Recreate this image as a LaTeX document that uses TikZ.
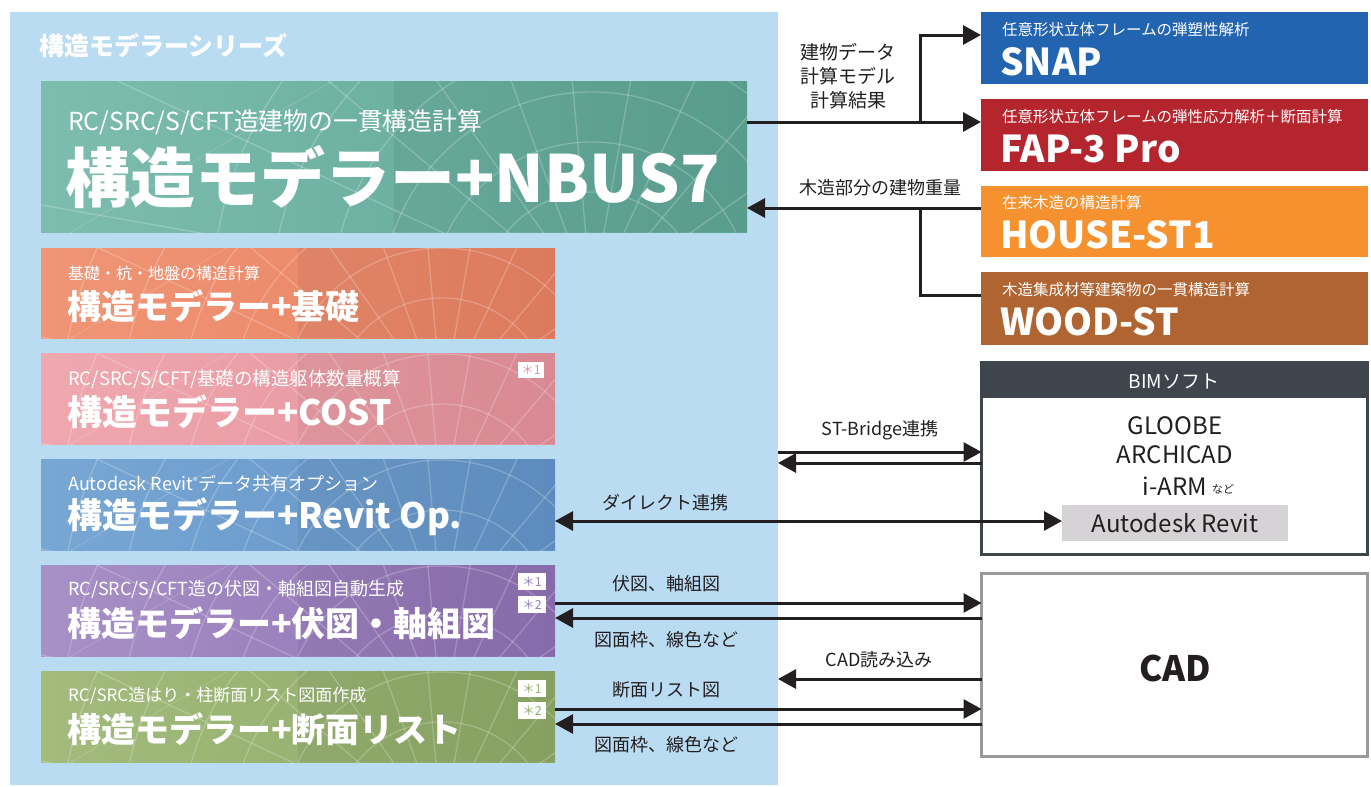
\documentclass[tikz,border=0pt]{standalone}
\usepackage{fontspec}
\setmainfont{Noto Sans CJK JP}
\usetikzlibrary{arrows.meta,calc}
\definecolor{panelc}{HTML}{BADCF3}
\definecolor{nbusL}{HTML}{7DBDAF}
\definecolor{nbusR}{HTML}{5DA595}
\definecolor{kisoL}{HTML}{EF9676}
\definecolor{kisoR}{HTML}{E98163}
\definecolor{costL}{HTML}{EFA8AF}
\definecolor{costR}{HTML}{E5919B}
\definecolor{revL}{HTML}{78A7D4}
\definecolor{revR}{HTML}{6393C8}
\definecolor{fuzL}{HTML}{A891C6}
\definecolor{fuzR}{HTML}{8E70B4}
\definecolor{danL}{HTML}{A3BC7E}
\definecolor{danR}{HTML}{8DA966}
\definecolor{snapc}{HTML}{2364B0}
\definecolor{fapc}{HTML}{B5252E}
\definecolor{housec}{HTML}{F5922F}
\definecolor{woodc}{HTML}{B06431}
\definecolor{bimhead}{HTML}{3E454C}
\definecolor{revgray}{HTML}{D5D3D6}
\definecolor{cadborder}{HTML}{9A9A9A}
\definecolor{costtxt}{HTML}{E595A0}
\definecolor{fuztxt}{HTML}{9A80BD}
\definecolor{dantxt}{HTML}{94B06C}
\definecolor{linec}{HTML}{231F20}
\newcommand\fsz[1]{\fontsize{#1}{#1}\selectfont}
\newcommand\boxtexture[1]{%
  \begin{scope}
    \clip (#1.north west) rectangle (#1.south east);
    \fill[black,opacity=.05] ($(#1.north west)!.5!(#1.north east)$) rectangle (#1.south east);
    \coordinate (tc) at ($(#1.south west)!.78!(#1.south east)+(0,70)$);
    \foreach \r in {60,110,160,210,260,320,380} \draw[white,opacity=.22,line width=1.3] (tc) circle[radius=\r];
    \foreach \a in {190,205,...,350} \draw[white,opacity=.22,line width=1.3] (tc) -- ++(\a:700);
    \foreach \a in {-30,25,70} \draw[white,opacity=.12,line width=1.2] ($(#1.south west)+(30,0)$) -- ++(\a:600);
  \end{scope}}
\tikzset{
  prodbox/.style={inner sep=0, outer sep=0, anchor=north west},
  wtext/.style={inner sep=0, anchor=west, text=white},
  lbl/.style={inner sep=0, text=linec},
  ln/.style={draw=linec, line width=3},
  tip/.tip={Triangle[length=18, width=19]},
  badge/.style={fill=white, inner sep=0, minimum width=28, minimum height=17, anchor=north west, font=\fsz{12.5}}
}
\begin{document}
\begin{tikzpicture}[x=1pt,y=-1pt]
\useasboundingbox (0,0) rectangle (1371,787);
\fill[white] (0,0) rectangle (1371,787);

% series panel
\node[prodbox, fill=panelc, minimum width=768, minimum height=773] (panel) at (10,12) {};
\node[wtext, font=\bfseries\fsz{25}] (title) at (39,46) {構造モデラーシリーズ};

% left product boxes
\node[prodbox, left color=nbusL, right color=nbusR, minimum width=706, minimum height=151] (nbus) at (41,81) {};
\boxtexture{nbus}
\node[wtext, font=\fsz{24.8}] (nbus-sub) at (68,122) {RC/SRC/S/CFT造建物の一貫構造計算};
\node[wtext, font=\bfseries\fsz{65}] (nbus-main) at (65,177) {構造モデラー+NBUS7};

\node[prodbox, left color=kisoL, right color=kisoR, minimum width=514, minimum height=90] (kiso) at (41,248) {};
\boxtexture{kiso}
\node[wtext, font=\fsz{16}] (kiso-sub) at (68,273) {基礎・杭・地盤の構造計算};
\node[wtext, font=\bfseries\fsz{34}] (kiso-main) at (67,306) {構造モデラー+基礎};

\node[prodbox, left color=costL, right color=costR, minimum width=514, minimum height=91] (cost) at (41,353) {};
\boxtexture{cost}
\node[wtext, font=\fsz{18.5}] (cost-sub) at (68,379) {RC/SRC/S/CFT/基礎の構造躯体数量概算};
\node[wtext, font=\bfseries\fsz{35}] (cost-main) at (67,412) {構造モデラー+COST};
\node[badge, text=costtxt, minimum width=26, minimum height=16] (cost-b1) at (518,362) {＊1};

\node[prodbox, left color=revL, right color=revR, minimum width=514, minimum height=91] (revit) at (41,459) {};
\boxtexture{revit}
\node[wtext, font=\fsz{18}] (revit-sub) at (68,484) {Autodesk Revit\textsuperscript{\fsz{9}®}データ共有オプション};
\node[wtext, font=\bfseries\fsz{35}] (revit-main) at (67,517) {構造モデラー+Revit Op.};

\node[prodbox, left color=fuzL, right color=fuzR, minimum width=514, minimum height=91] (fuzu) at (41,565) {};
\boxtexture{fuzu}
\node[wtext, font=\fsz{18}] (fuzu-sub) at (68,590) {RC/SRC/S/CFT造の伏図・軸組図自動生成};
\node[wtext, font=\bfseries\fsz{34}] (fuzu-main) at (67,623) {構造モデラー+伏図・軸組図};
\node[badge, text=fuztxt] (fuzu-b1) at (518,573) {＊1};
\node[badge, text=fuztxt] (fuzu-b2) at (518,596) {＊2};

\node[prodbox, left color=danL, right color=danR, minimum width=514, minimum height=91] (danmen) at (41,671) {};
\boxtexture{danmen}
\node[wtext, font=\fsz{17}] (danmen-sub) at (68,696) {RC/SRC造はり・柱断面リスト図面作成};
\node[wtext, font=\bfseries\fsz{34}] (danmen-main) at (67,729) {構造モデラー+断面リスト};
\node[badge, text=dantxt] (danmen-b1) at (518,680) {＊1};
\node[badge, text=dantxt] (danmen-b2) at (518,702) {＊2};

% right product boxes
\node[prodbox, fill=snapc, minimum width=387, minimum height=72] (snap) at (981,12) {};
\node[wtext, font=\fsz{15.5}] (snap-sub) at (1002,30) {任意形状立体フレームの弾塑性解析};
\node[wtext, font=\bfseries\fsz{37}] (snap-main) at (1000,62) {SNAP};

\node[prodbox, fill=fapc, minimum width=387, minimum height=72] (fap) at (981,99) {};
\node[wtext, font=\fsz{15.5}] (fap-sub) at (1002,117) {任意形状立体フレームの弾性応力解析＋断面計算};
\node[wtext, font=\bfseries\fsz{37}] (fap-main) at (1000,149) {FAP-3 Pro};

\node[prodbox, fill=housec, minimum width=387, minimum height=71] (house) at (981,186) {};
\node[wtext, font=\fsz{15.5}] (house-sub) at (1002,203) {在来木造の構造計算};
\node[wtext, font=\bfseries\fsz{37}] (house-main) at (1000,235) {HOUSE-ST1};

\node[prodbox, fill=woodc, minimum width=387, minimum height=73] (wood) at (981,272) {};
\node[wtext, font=\fsz{15.5}] (wood-sub) at (1002,290) {木造集成材等建築物の一貫構造計算};
\node[wtext, font=\bfseries\fsz{37}] (wood-main) at (1000,322) {WOOD-ST};

% BIM box
\node[prodbox, fill=white, draw=bimhead, line width=2.5, minimum width=386, minimum height=192] (bim) at (981.5,362.5) {};
\node[prodbox, fill=bimhead, minimum width=387, minimum height=36] (bimhead) at (981,362) {};
\node[inner sep=0, text=white, font=\fsz{19}] (bim-title) at (1174,381) {BIMソフト};
\node[lbl, font=\fsz{24}] (gloobe) at (1175,426) {GLOOBE};
\node[lbl, font=\fsz{24}] (archicad) at (1175,455) {ARCHICAD};
\node[lbl, font=\fsz{24}, anchor=east] (iarm) at (1207,486) {i-ARM};
\node[lbl, font=\fsz{11}, anchor=west] (nado) at (1212,489) {など};
\node[inner sep=0, outer sep=0, fill=revgray, minimum width=226, minimum height=36, text=linec, font=\fsz{24}] (autorevit) at (1175,523) {Autodesk Revit};

% CAD box
\node[prodbox, fill=white, draw=cadborder, line width=2.5, minimum width=386, minimum height=183] (cad) at (981.5,573.5) {};
\node[lbl, font=\bfseries\fsz{35}] (cad-title) at (1175,668) {CAD};

% connectors
\coordinate (j1) at (920,122);
\coordinate (j2) at (920,208);
\draw[ln,-{tip}] (nbus.east |- j1) -- (fap.west |- j1);
\draw[ln,-{tip}] (j1) |- (snap.west |- 0,35);
\draw[ln,-{tip}] (house.west |- j2) -- (nbus.east |- j2);
\draw[ln] (wood.west |- 0,295) -| (j2);
\node[lbl, font=\fsz{19}, align=center] (lbl-data) at (848,76) {建物データ\\[5pt]計算モデル\\[5pt]計算結果};
\node[lbl, font=\fsz{18}] (lbl-wood) at (880,188) {木造部分の建物重量};

\draw[ln,-{tip}] (panel.east |- 0,452) -- (bim.west |- 0,452);
\draw[ln,-{tip}] (bim.west |- 0,463) -- (panel.east |- 0,463);
\node[lbl, font=\fsz{18}] (lbl-stb) at (880,430) {ST-Bridge連携};

\draw[ln,{tip}-{tip}] (revit.east |- 0,521) -- (autorevit.west |- 0,521);
\node[lbl, font=\fsz{18}] (lbl-direct) at (665,503) {ダイレクト連携};

\draw[ln,-{tip}] (fuzu.east |- 0,603) -- (cad.west |- 0,603);
\draw[ln,-{tip}] (cad.west |- 0,618) -- (fuzu.east |- 0,618);
\node[lbl, font=\fsz{18}] (lbl-fuzu) at (666,584) {伏図、軸組図};
\node[lbl, font=\fsz{18}] (lbl-waku1) at (666,640) {図面枠、線色など};

\draw[ln,-{tip}] (cad.west |- 0,679) -- (panel.east |- 0,679);
\node[lbl, font=\fsz{18}] (lbl-cadin) at (879,660) {CAD読み込み};

\draw[ln,-{tip}] (danmen.east |- 0,709) -- (cad.west |- 0,709);
\draw[ln,-{tip}] (cad.west |- 0,724) -- (danmen.east |- 0,724);
\node[lbl, font=\fsz{18}] (lbl-dan) at (666,690) {断面リスト図};
\node[lbl, font=\fsz{18}] (lbl-waku2) at (666,745) {図面枠、線色など};
\end{tikzpicture}
\end{document}
